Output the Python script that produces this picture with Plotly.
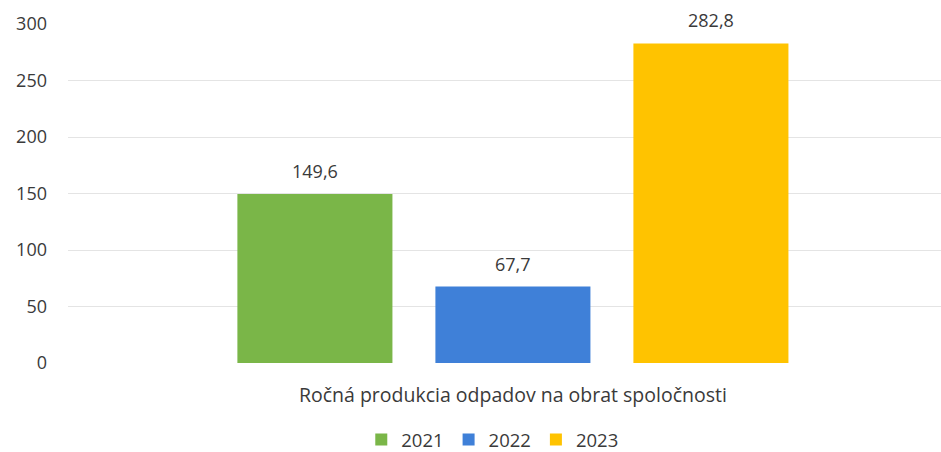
import plotly.graph_objects as go

category = "Ročná produkcia odpadov na obrat spoločnosti"
years = [2021, 2022, 2023]
values = [149.6, 67.7, 282.8]
colors = ["#7ab648", "#3f80d8", "#ffc300"]
y_ticks = [0, 50, 100, 150, 200, 250, 300]

FONT = "Open Sans"
TXT = "#3a3a3a"

fig = go.Figure()
for yr, v, c in zip(years, values, colors):
    fig.add_trace(go.Bar(
        x=[yr], y=[v], name=str(yr), marker=dict(color=c, line=dict(width=0)),
        width=0.783, hoverinfo="y",
    ))
    fig.add_annotation(
        x=yr, y=v, text=f"{v:.1f}".replace(".", ","), showarrow=False,
        yanchor="bottom", yshift=9, font=dict(family=FONT, size=18, color=TXT),
    )

fig.update_layout(
    width=941, height=452,
    margin=dict(l=68, r=0, t=24, b=89, autoexpand=False),
    paper_bgcolor="white", plot_bgcolor="white",
    font=dict(family=FONT, size=18, color=TXT),
    showlegend=True,
    legend=dict(orientation="h", x=0.486, xanchor="center", y=-0.227, yanchor="middle",
                font=dict(family=FONT, size=18.5, color=TXT), itemwidth=30,
                traceorder="normal"),
    xaxis=dict(range=[2019.753, 2024.162], tickmode="array", tickvals=[years[1]],
               ticktext=[category], showgrid=False, zeroline=False, showline=False,
               ticks="", ticklabelstandoff=18, tickfont=dict(size=19.5),
               fixedrange=True),
    yaxis=dict(range=[0, 300], tickvals=y_ticks, showgrid=True, gridcolor="#e4e4e4",
               gridwidth=1, zeroline=False, showline=False, ticks="",
               ticklabelstandoff=20, fixedrange=True),
)
fig.write_html("out.html", config={"displayModeBar": False},
               post_script="document.body.style.margin='0';document.body.style.overflow='hidden';")
